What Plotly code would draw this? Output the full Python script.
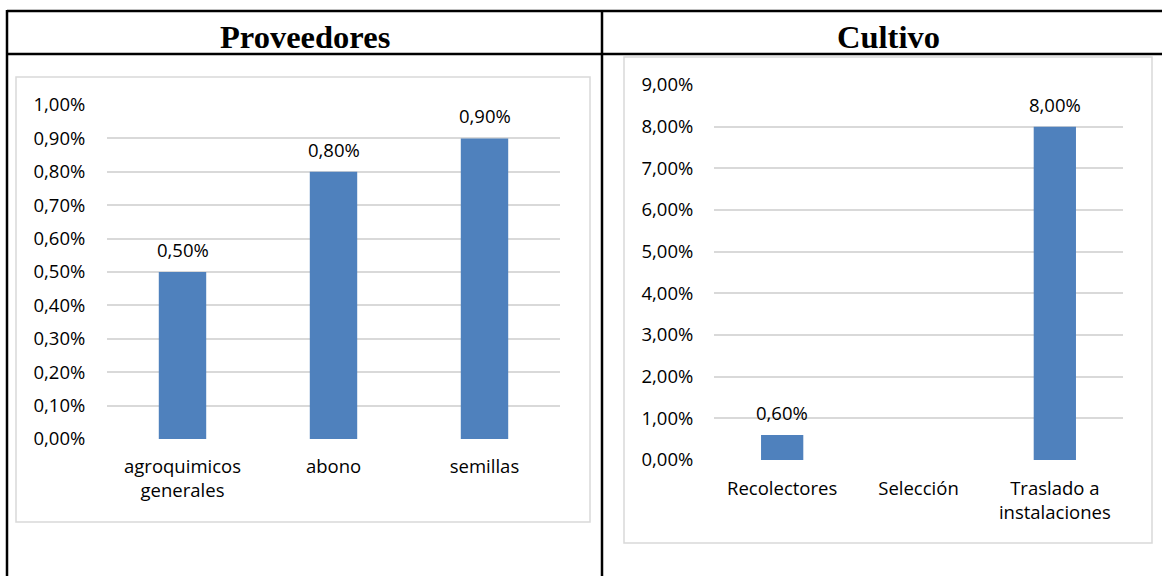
import plotly.graph_objects as go

# ---------------- data ----------------
prov_categories = ["agroquimicos<br>generales", "abono", "semillas"]
prov_values = [0.005, 0.008, 0.009]

cult_categories = ["Recolectores", "Selección", "Traslado a<br>instalaciones"]
cult_values = [0.006, 0.0, 0.08]

titles = ["Proveedores", "Cultivo"]

# ---------------- layout helpers ----------------
W, H = 1162, 576
def px(x):
    return x / W
def py(y):
    return 1 - y / H

BAR = "#4f81bd"
GRID = "#d9d9d9"
FONT = "Open Sans"
FS = 18.5

fig = go.Figure()
fig.add_trace(go.Bar(x=prov_categories, y=prov_values, marker_color=BAR, marker_line_width=0,
                     width=0.314, xaxis="x", yaxis="y", hoverinfo="skip"))
fig.add_trace(go.Bar(x=cult_categories, y=cult_values, marker_color=BAR, marker_line_width=0,
                     width=0.31, xaxis="x2", yaxis="y2", hoverinfo="skip"))

annotations = []
for cats, vals, xr, yr in [(prov_categories, prov_values, "x", "y"),
                           (cult_categories, cult_values, "x2", "y2")]:
    for c, v in zip(cats, vals):
        if v > 0:
            annotations.append(dict(x=c, y=v, xref=xr, yref=yr, text=f"{v*100:.2f}%".replace(".", ","),
                                    showarrow=False, yanchor="bottom", yshift=8,
                                    font=dict(family=FONT, size=FS, color="#000")))

# titles
annotations.append(dict(x=px(304.5), y=py(37), xref="paper", yref="paper", text="<b>" + titles[0] + "</b>",
                        showarrow=False, xanchor="center", yanchor="middle",
                        font=dict(family="Liberation Serif", size=32.5, color="#000")))
annotations.append(dict(x=px(888), y=py(37), xref="paper", yref="paper", text="<b>" + titles[1] + "</b>",
                        showarrow=False, xanchor="center", yanchor="middle",
                        font=dict(family="Liberation Serif", size=32.5, color="#000")))

shapes = []
# table borders
blk = dict(color="black", width=2.5)
shapes.append(dict(type="line", xref="paper", yref="paper", x0=px(7), x1=px(1200), y0=py(11), y1=py(11), line=blk))
shapes.append(dict(type="line", xref="paper", yref="paper", x0=px(7), x1=px(1200), y0=py(54), y1=py(54), line=blk))
shapes.append(dict(type="line", xref="paper", yref="paper", x0=px(7), x1=px(7), y0=py(10), y1=py(600), line=blk))
shapes.append(dict(type="line", xref="paper", yref="paper", x0=px(602), x1=px(602), y0=py(10), y1=py(600), line=blk))
# chart frames
frm = dict(color=GRID, width=1.5)
shapes.append(dict(type="rect", xref="paper", yref="paper", x0=px(16), x1=px(590), y0=py(77), y1=py(522), line=frm))
shapes.append(dict(type="rect", xref="paper", yref="paper", x0=px(624), x1=px(1152), y0=py(57), y1=py(543), line=frm))

axis_common = dict(showline=False, zeroline=False, automargin=False,
                   tickfont=dict(family=FONT, size=FS, color="#000"))

fig.update_layout(
    width=W, height=H, margin=dict(l=0, r=0, t=0, b=0, pad=0, autoexpand=False),
    paper_bgcolor="white", plot_bgcolor="white", showlegend=False,
    separators=",.",
    xaxis=dict(domain=[px(107), px(560)], anchor="y", showgrid=False, ticks="outside", ticklen=11,
               tickcolor="rgba(0,0,0,0)", fixedrange=True, **axis_common),
    yaxis=dict(domain=[py(439), py(105)], anchor="x", range=[0, 0.01], dtick=0.001, tickformat=".2%",
               showgrid=True, gridcolor=GRID, gridwidth=1.5, ticks="outside", ticklen=17,
               tickcolor="rgba(0,0,0,0)", **axis_common),
    xaxis2=dict(domain=[px(714), px(1123)], anchor="y2", showgrid=False, ticks="outside", ticklen=12,
                tickcolor="rgba(0,0,0,0)", **axis_common),
    yaxis2=dict(domain=[py(460), py(85)], anchor="x2", range=[0, 0.09], dtick=0.01, tickformat=".2%",
                showgrid=True, gridcolor=GRID, gridwidth=1.5, ticks="outside", ticklen=16,
                tickcolor="rgba(0,0,0,0)", **axis_common),
    annotations=annotations, shapes=shapes,
)

fig.write_html("out.html", config={"displayModeBar": False},
               post_script="document.body.style.margin='0';document.body.style.overflow='hidden';")
